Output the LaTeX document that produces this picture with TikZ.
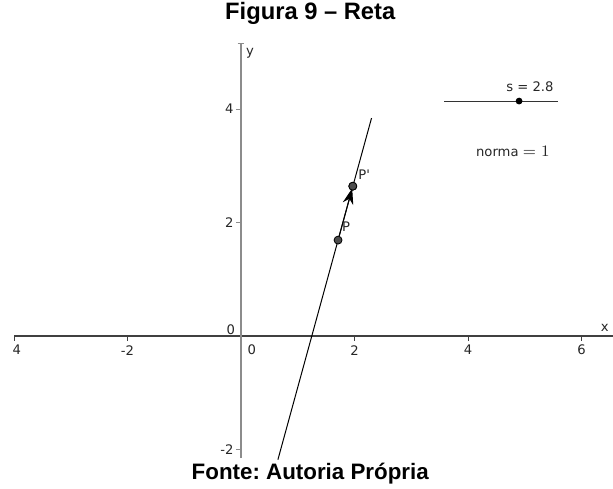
\documentclass[tikz,border=0pt]{standalone}
\usepackage{fontspec}
\setmainfont{Liberation Sans}
\newfontfamily\ggfont{DejaVu Sans}
\usetikzlibrary{arrows.meta}
\frenchspacing
\tikzset{
  ponto/.style={circle,draw=black,fill=black!70,inner sep=0pt,minimum size=1.4mm},
  rotulo/.style={font=\ggfont\fontsize{6.6}{8}\selectfont,text=black!85,inner sep=1pt},
  legenda/.style={font=\bfseries\fontsize{11.9}{14}\selectfont}
}
\begin{document}
\begin{tikzpicture}
  \useasboundingbox (-4.247,-2.696) rectangle (6.555,5.921);
  % Title and source
  \node[legenda] (titulo) at (1.22,5.69) {Figura 9 – Reta};
  \node[legenda,font=\bfseries\fontsize{11.2}{14}\selectfont] (fonte) at (1.22,-2.43) {Fonte: Autoria Própria};
  % Axes
  \draw[black!75,line width=0.6pt] (-4.0,0) -- (6.555,0);
  \draw[black!45,line width=0.9pt] (0,-2.15) -- (0,5.16);
  \draw[black!45] (-0.06,5.16) -- (0.06,5.16);
  \foreach \x in {-4,-2,2,4,6}
    \draw[black!75] (\x,0) -- (\x,-0.08);
  \foreach \y in {-2,2,4}
    \draw[black!45] (0,\y) -- (-0.08,\y);
  \node[rotulo] (xm4) at (-3.95,-0.25) {4};
  \foreach \x in {-2,2,4,6}
    \node[rotulo] (x\x) at (\x,-0.25) {\x};
  \foreach \y in {-2,2,4}
    \node[rotulo,anchor=east] (y\y) at (-0.09,\y) {\y};
  \node[rotulo] (zeroa) at (-0.18,0.11) {0};
  \node[rotulo] (zerob) at (0.19,-0.25) {0};
  \node[rotulo] (xlab) at (6.41,0.14) {x};
  \node[rotulo] (ylab) at (0.16,4.99) {y};
  % Line through P
  \coordinate (retab) at (0.65,-2.18);
  \coordinate (retat) at (2.30,3.84);
  \draw[black,line width=0.5pt] (retab) -- (retat);
  \node[ponto] (P) at (1.71,1.69) {};
  \node[ponto] (Pl) at (1.97,2.64) {};
  \draw[-{Stealth[length=2.8mm,width=1.9mm]},line width=0.5pt,shorten >=0.4mm] (P) -- (Pl.center);
  \node[ponto] (Pl2) at (1.97,2.64) {};
  \node[rotulo] (Plab) at (1.85,1.92) {P};
  \node[rotulo] (Pllab) at (2.17,2.85) {P'};
  % Slider
  \coordinate (sl1) at (3.58,4.14);
  \coordinate (sl2) at (5.59,4.14);
  \draw[black!80,line width=0.5pt] (sl1) -- (sl2);
  \node[circle,fill=black,inner sep=0pt,minimum size=1.2mm] (s) at (4.90,4.14) {};
  \node[rotulo] (slab) at (5.09,4.39) {s = 2.8};
  \node[rotulo] (norma) at (4.79,3.26) {norma {\fontsize{8}{9}\selectfont$=$ $1$}};
\end{tikzpicture}
\end{document}
